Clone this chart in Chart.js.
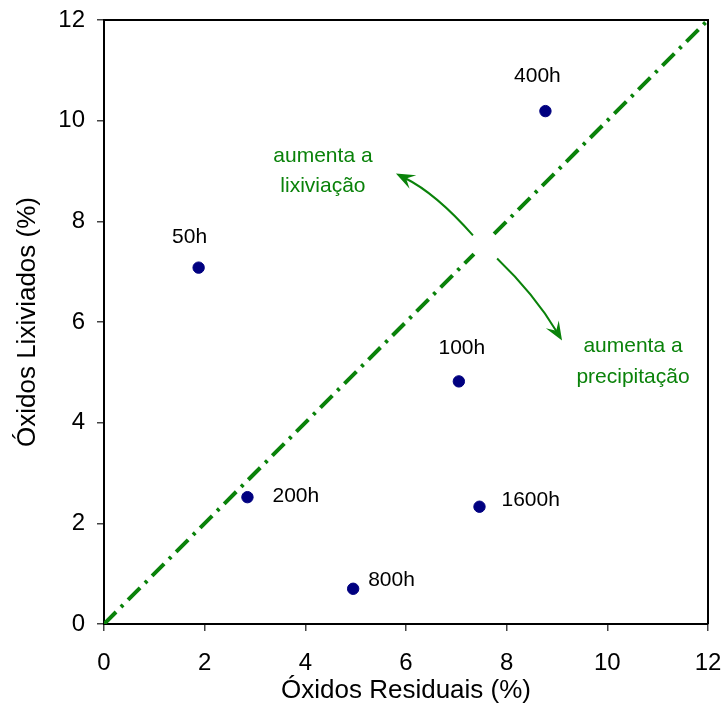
<!DOCTYPE html>
<html>
<head>
<meta charset="utf-8">
<script src="https://cdn.jsdelivr.net/npm/chart.js@4.4.1/dist/chart.umd.min.js"></script>
<style>
  html, body { margin: 0; padding: 0; background: #fff; }
  #wrap { width: 724px; height: 706px; position: relative; }
</style>
</head>
<body>
<div id="wrap"><canvas id="c" width="724" height="706"></canvas></div>
<script>
// ---- data ----
const pointLabels = ["50h", "100h", "200h", "400h", "800h", "1600h"];
const residuais   = [1.88, 7.05, 2.85, 8.77, 4.95, 7.46];
const lixiviados  = [7.08, 4.82, 2.52, 10.19, 0.70, 2.33];
const xTicks = [0, 2, 4, 6, 8, 10, 12];
const yTicks = [0, 2, 4, 6, 8, 10, 12];
const diagLower = [[0, 0], [7.35, 7.35]];
const diagUpper = [[7.75, 7.75], [12, 12]];
const noteLeft  = ["aumenta a", "lixiviação"];
const noteRight = ["aumenta a", "precipitação"];

// ---- styles / placement ----
const green = "#0a820a";
const FAM = "'Liberation Sans', Arial, sans-serif";
const labelOffsets = { // pixel offsets and alignment for point labels
  "50h":  [-9, -30, "center"],
  "100h": [3, -33, "center"],
  "200h": [25, -1, "left"],
  "400h": [-8, -35, "center"],
  "800h": [15, -9, "left"],
  "1600h":[22, -7, "left"]
};

const pts = residuais.map((x, i) => ({ x: x, y: lixiviados[i] }));
const toXY = a => a.map(p => ({ x: p[0], y: p[1] }));

function arrowHead(ctx, x, y, ang, len, wid) {
  ctx.save();
  ctx.translate(x, y);
  ctx.rotate(ang);
  ctx.beginPath();
  ctx.moveTo(0, 0);
  ctx.lineTo(-len, -wid / 2);
  ctx.lineTo(-len * 0.6, 0);
  ctx.lineTo(-len, wid / 2);
  ctx.closePath();
  ctx.fill();
  ctx.restore();
}

const extras = {
  id: "extras",
  afterDatasetsDraw(chart) {
    const ctx = chart.ctx, xs = chart.scales.x, ys = chart.scales.y, a = chart.chartArea;
    ctx.save();
    // frame top/right
    ctx.strokeStyle = "#000";
    ctx.lineWidth = 2;
    ctx.beginPath();
    ctx.moveTo(a.left, a.top);
    ctx.lineTo(a.right, a.top);
    ctx.lineTo(a.right, a.bottom);
    ctx.stroke();

    // point labels
    ctx.fillStyle = "#000";
    ctx.font = "21px " + FAM;
    ctx.textBaseline = "middle";
    pts.forEach((p, i) => {
      const o = labelOffsets[pointLabels[i]];
      ctx.textAlign = o[2];
      ctx.fillText(pointLabels[i], xs.getPixelForValue(p.x) + o[0], ys.getPixelForValue(p.y) + o[1]);
    });

    // arrows (data units)
    ctx.strokeStyle = green;
    ctx.fillStyle = green;
    ctx.lineWidth = 2;
    const arrows = [
      { s: [7.33, 7.72], c: [6.6, 8.55], e: [5.8, 8.95] },
      { s: [7.81, 7.26], c: [8.55, 6.55], e: [9.1, 5.63] }
    ];
    arrows.forEach(ar => {
      const sx = xs.getPixelForValue(ar.s[0]), sy = ys.getPixelForValue(ar.s[1]);
      const cx = xs.getPixelForValue(ar.c[0]), cy = ys.getPixelForValue(ar.c[1]);
      const ex = xs.getPixelForValue(ar.e[0]), ey = ys.getPixelForValue(ar.e[1]);
      const ang = Math.atan2(ey - cy, ex - cx);
      const bx = ex - Math.cos(ang) * 10, by = ey - Math.sin(ang) * 10;
      ctx.beginPath();
      ctx.moveTo(sx, sy);
      ctx.quadraticCurveTo(cx, cy, bx, by);
      ctx.stroke();
      arrowHead(ctx, ex, ey, ang, 19, 15);
    });

    // annotation text
    ctx.fillStyle = green;
    ctx.font = "21px " + FAM;
    ctx.textAlign = "center";
    const lx = xs.getPixelForValue(4.35), rx = xs.getPixelForValue(10.51);
    ctx.fillText(noteLeft[0], lx, ys.getPixelForValue(9.3));
    ctx.fillText(noteLeft[1], lx, ys.getPixelForValue(8.7));
    ctx.fillText(noteRight[0], rx, ys.getPixelForValue(5.52));
    ctx.fillText(noteRight[1], rx, ys.getPixelForValue(4.9));
    ctx.restore();
  }
};

const tickFont = { family: FAM, size: 24 };
const titleFont = { family: FAM, size: 26 };
const diagStyle = {
  type: "line", borderColor: green, borderWidth: 4, borderDash: [17, 7, 3, 7],
  pointRadius: 0, fill: false, showLine: true, order: 2
};
function zeroPad(s) { s.paddingLeft = 0; s.paddingRight = 0; s.paddingTop = 0; s.paddingBottom = 0; }

new Chart(document.getElementById("c"), {
  type: "scatter",
  data: {
    datasets: [
      Object.assign({ data: toXY(diagLower) }, diagStyle),
      Object.assign({ data: toXY(diagUpper) }, diagStyle),
      {
        data: pts, backgroundColor: "#000080", borderColor: "#000080",
        pointRadius: 5.7, pointHoverRadius: 5.7, order: 1
      }
    ]
  },
  options: {
    responsive: false,
    animation: false,
    events: [],
    layout: { padding: { top: 20, right: 16, left: 0, bottom: 0 } },
    plugins: { legend: { display: false }, tooltip: { enabled: false } },
    scales: {
      x: {
        type: "linear", min: 0, max: 12,
        afterBuildTicks: s => { s.ticks = xTicks.map(v => ({ value: v })); },
        afterFit: s => { s.height = 82; zeroPad(s); },
        grid: { drawOnChartArea: false, drawTicks: true, tickLength: 7, color: "#444", lineWidth: 1.5 },
        border: { display: true, color: "#000", width: 2 },
        ticks: { color: "#000", font: tickFont, padding: 18, maxRotation: 0 },
        title: { display: true, text: "Óxidos Residuais (%)", color: "#000", font: titleFont, padding: { top: 0, bottom: 0 } }
      },
      y: {
        type: "linear", min: 0, max: 12,
        afterBuildTicks: s => { s.ticks = yTicks.map(v => ({ value: v })); },
        afterFit: s => { s.width = 104; zeroPad(s); },
        grid: { drawOnChartArea: false, drawTicks: true, tickLength: 7, color: "#444", lineWidth: 1.5 },
        border: { display: true, color: "#000", width: 2 },
        ticks: { color: "#000", font: tickFont, padding: 12 },
        title: { display: true, text: "Óxidos Lixiviados (%)", color: "#000", font: titleFont, padding: { top: 12, bottom: 0 } }
      }
    }
  },
  plugins: [extras]
});
</script>
</body>
</html>
